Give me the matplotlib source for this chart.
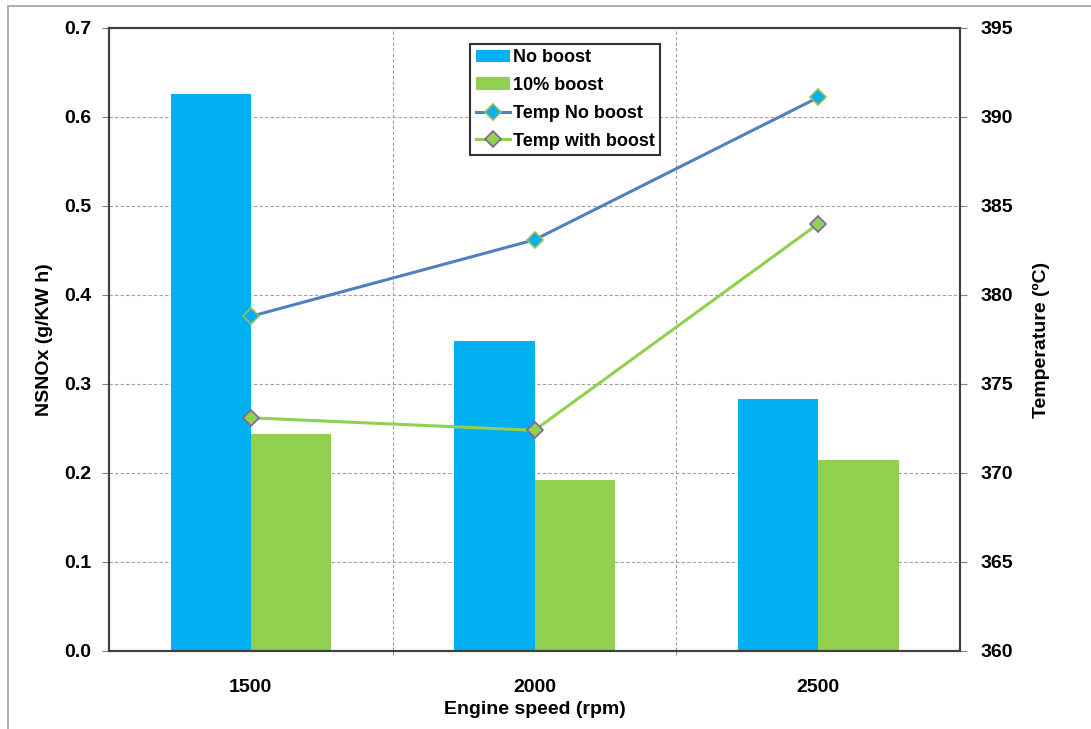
import matplotlib.pyplot as plt
from matplotlib.patches import Rectangle
import numpy as np

plt.rcParams["font.family"] = ["Liberation Sans", "DejaVu Sans"]
plt.rcParams["font.weight"] = "bold"

speeds = ["1500", "2000", "2500"]
nsnox_no_boost = [0.626, 0.348, 0.283]
nsnox_boost = [0.244, 0.192, 0.215]
temp_no_boost = [378.8, 383.1, 391.1]
temp_boost = [373.1, 372.4, 384.0]

fig = plt.figure(figsize=(10.91, 7.29), dpi=100)
# outer chart frame (only left and top edges visible in the crop)
fig.add_artist(Rectangle((0.0073, -0.1), 2.0, 1.0918, transform=fig.transFigure,
                         fill=False, edgecolor="#a0a0a0", linewidth=1.2))
ax = fig.add_axes([0.0999, 0.107, 0.7801, 0.8546])

x = np.arange(len(speeds))
w = 0.283
b1 = ax.bar(x - w / 2, nsnox_no_boost, w, color="#00B0F0", label="No boost", zorder=2)
b2 = ax.bar(x + w / 2, nsnox_boost, w, color="#92D050", label="10% boost", zorder=2)

ax.set_xlim(-0.5, 2.5)
ax.set_ylim(0, 0.7)
ax.set_yticks(np.arange(0, 0.71, 0.1))
ax.yaxis.set_major_formatter(plt.FormatStrFormatter("%.1f"))
ax.set_xticks(x)
ax.set_xticklabels(speeds)
ax.set_xticks([0.5, 1.5], minor=True)
ax.tick_params(axis="x", which="major", length=0, pad=20, labelsize=14)
ax.tick_params(axis="x", which="minor", length=6, color="#808080", direction="inout")
ax.tick_params(axis="y", length=5, color="#808080", direction="out", labelsize=14, pad=8)
ax.grid(axis="y", linestyle=(0, (3, 2)), color="#a0a0a0", linewidth=0.8, zorder=0)
ax.grid(axis="x", which="minor", linestyle=(0, (3, 2)), color="#a0a0a0", linewidth=0.8, zorder=0)
ax.set_xlabel("Engine speed (rpm)", fontsize=14, fontweight="bold", labelpad=4)
ax.set_ylabel("NSNOx (g/KW h)", fontsize=14, fontweight="bold", labelpad=8)
for s in ax.spines.values():
    s.set_color("#404040")
    s.set_linewidth(1.5)

ax2 = ax.twinx()
l1, = ax2.plot(x, temp_no_boost, color="#4F81BD", linewidth=2.2, marker="D", markersize=8,
               markerfacecolor="#00B0F0", markeredgecolor="#9BBB59", markeredgewidth=1.2,
               label="Temp No boost", zorder=3)
l2, = ax2.plot(x, temp_boost, color="#92D050", linewidth=2.2, marker="D", markersize=8,
               markerfacecolor="#92D050", markeredgecolor="#8064A2", markeredgewidth=1.2,
               label="Temp with boost", zorder=3)
ax2.set_ylim(360, 395)
ax2.set_yticks(np.arange(360, 396, 5))
ax2.tick_params(axis="y", length=5, color="#808080", labelsize=14, pad=10)
ax2.set_ylabel("Temperature (ºC)", fontsize=14, fontweight="bold", labelpad=14)
for s in ax2.spines.values():
    s.set_color("#404040")
    s.set_linewidth(1.5)

leg = ax2.legend(handles=[b1, b2, l1, l2], loc="upper left",
                 bbox_to_anchor=(0.431, 0.94), bbox_transform=fig.transFigure,
                 borderaxespad=0, fontsize=13, frameon=True, fancybox=False,
                 borderpad=0.3, labelspacing=0.6, handlelength=1.9, handletextpad=0.15)
leg.get_frame().set_edgecolor("black")
leg.get_frame().set_linewidth(1.5)

fig.savefig("out.png", dpi=100)
